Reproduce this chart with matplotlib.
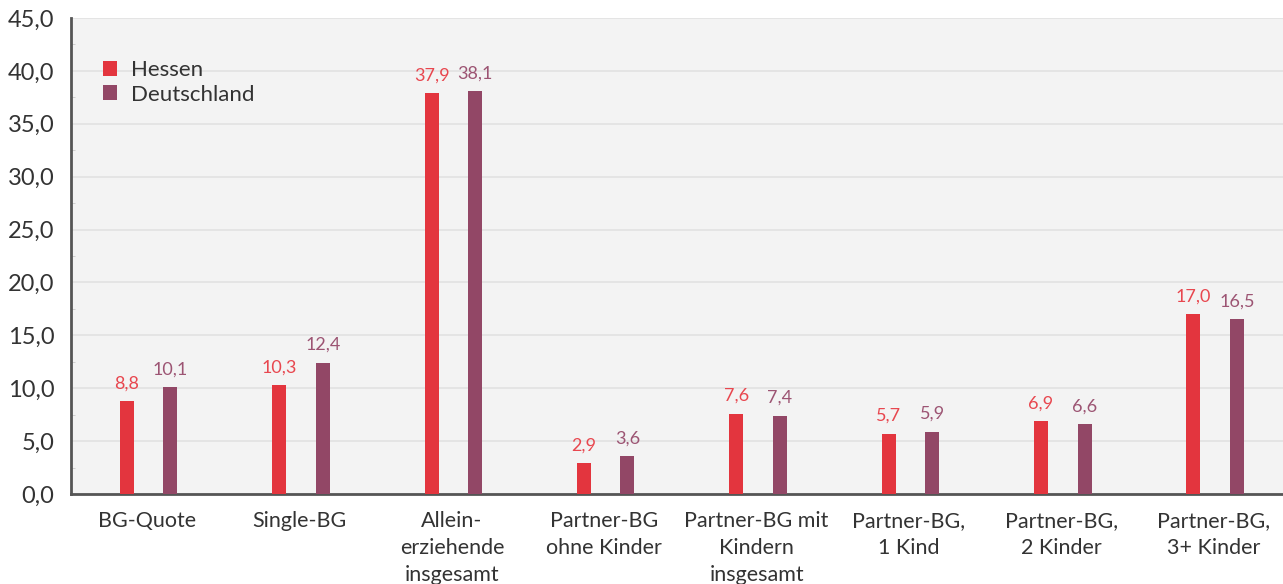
import matplotlib
matplotlib.use("Agg")
from matplotlib import pyplot as plt
from matplotlib.ticker import MultipleLocator, FuncFormatter
import numpy as np

categories = ["BG-Quote", "Single-BG", "Allein-\nerziehende\ninsgesamt",
              "Partner-BG\nohne Kinder", "Partner-BG mit\nKindern\ninsgesamt",
              "Partner-BG,\n1 Kind", "Partner-BG,\n2 Kinder", "Partner-BG,\n3+ Kinder"]
hessen = [8.8, 10.3, 37.9, 2.9, 7.6, 5.7, 6.9, 17.0]
deutschland = [10.1, 12.4, 38.1, 3.6, 7.4, 5.9, 6.6, 16.5]
series_names = ["Hessen", "Deutschland"]

c_hessen = "#e3353e"
c_de = "#924766"
c_text = "#333333"

plt.rcParams["font.family"] = ["Lato", "DejaVu Sans"]

fig = plt.figure(figsize=(12.83, 5.84), dpi=100)
ax = fig.add_axes([71 / 1283, 90 / 584, 1219 / 1283, 476 / 584])
ax.set_facecolor("#f3f3f3")

x = np.arange(len(categories))
w = 0.092
b1 = ax.bar(x - 0.134, hessen, w, color=c_hessen, label=series_names[0], zorder=3)
b2 = ax.bar(x + 0.152, deutschland, w, color=c_de, label=series_names[1], zorder=3)

fmt = lambda v: ("%.1f" % v).replace(".", ",")
for bars, vals, col in [(b1, hessen, "#e8474f"), (b2, deutschland, "#9c5473")]:
    for rect, v in zip(bars, vals):
        ax.annotate(fmt(v), (rect.get_x() + rect.get_width() / 2, v),
                    xytext=(0, 7), textcoords="offset points",
                    ha="center", va="bottom", fontsize=13, color=col)

ax.set_ylim(0, 45)
ax.set_xlim(-0.5, 7.5)
ax.yaxis.set_major_locator(MultipleLocator(5))
ax.yaxis.set_minor_locator(MultipleLocator(2.5))
ax.yaxis.set_major_formatter(FuncFormatter(lambda v, p: fmt(v)))
ax.grid(axis="y", color="#e2e2e2", linewidth=1.2, zorder=0)
ax.tick_params(axis="y", which="major", length=0, labelsize=17, labelcolor=c_text, pad=12)
ax.tick_params(axis="y", which="minor", length=3, direction="in", color="#c8c8c8")
ax.set_xticks(x)
ax.set_xticklabels(categories, fontsize=15.5, color=c_text, linespacing=1.45)
ax.tick_params(axis="x", length=0, pad=12)

for s in ["top", "right"]:
    ax.spines[s].set_visible(False)
for s in ["left", "bottom"]:
    ax.spines[s].set_color("#555555")
    ax.spines[s].set_linewidth(2)

leg = ax.legend(loc="upper left", bbox_to_anchor=(0.019, 0.93), frameon=False,
                fontsize=16, handlelength=0.65, handleheight=0.65, handletextpad=0.6,
                labelspacing=0.2, borderaxespad=0)
for t in leg.get_texts():
    t.set_color(c_text)

fig.savefig("out.png", dpi=100)
